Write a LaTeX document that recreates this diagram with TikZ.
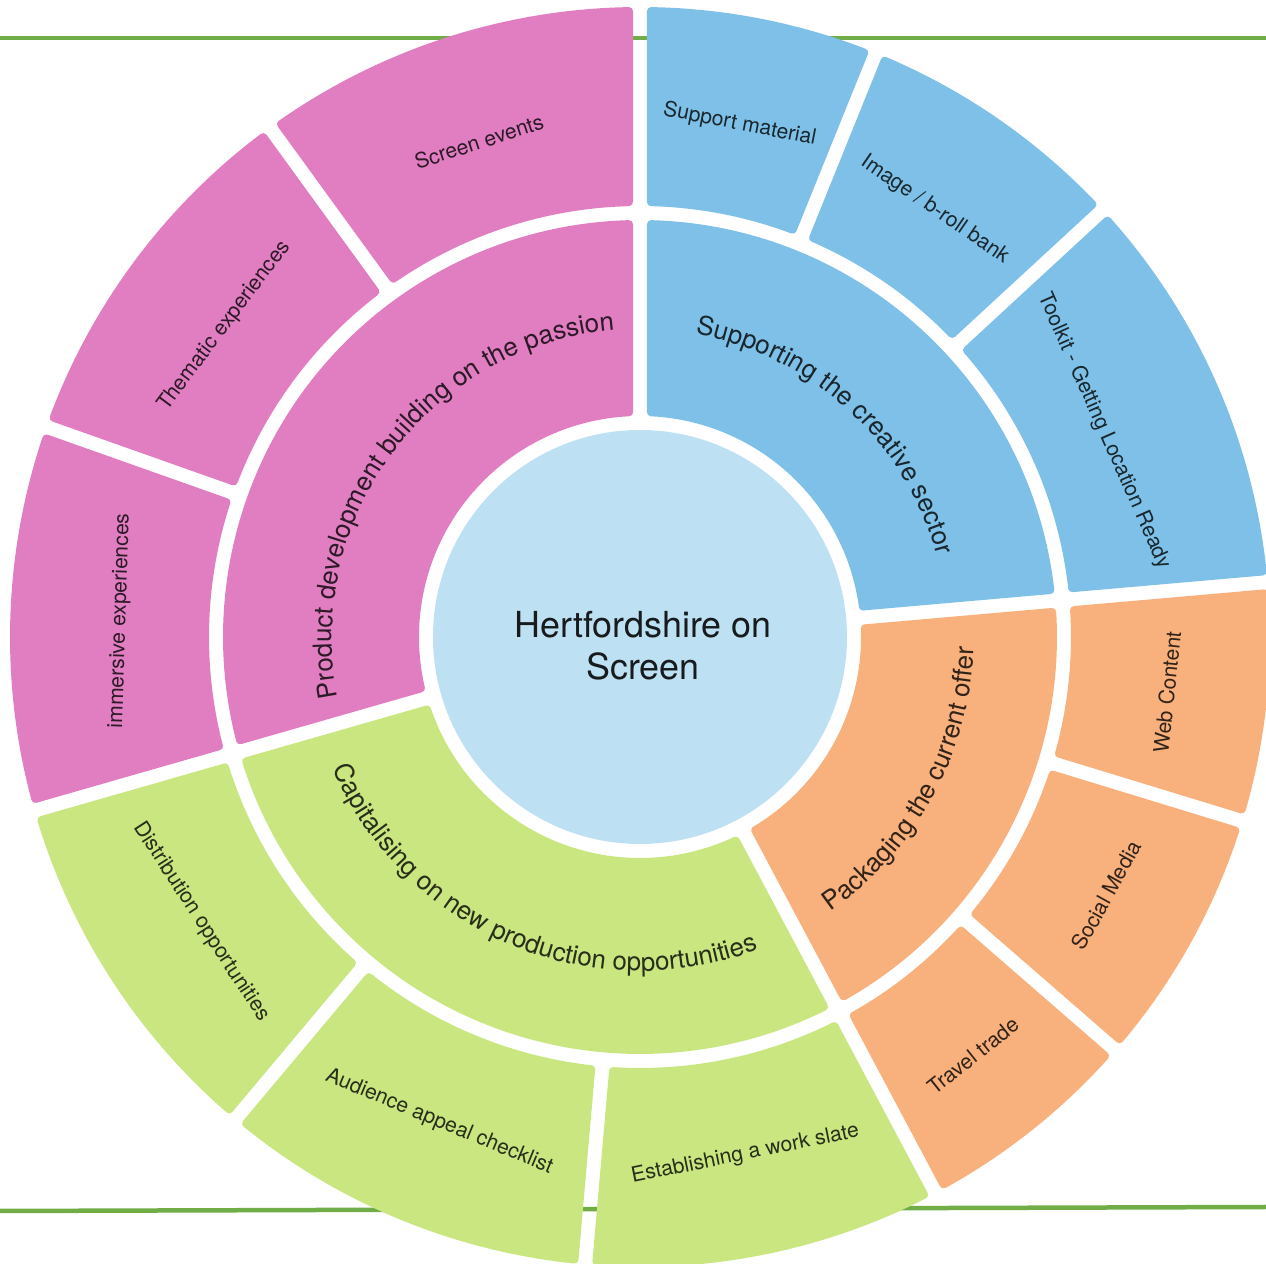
\documentclass[tikz,border=0pt]{standalone}
\usepackage{fontspec}
\setmainfont{TeX Gyre Heros}
\usetikzlibrary{decorations.text}

\definecolor{prodpink}{HTML}{E07EC1}
\definecolor{suppblue}{HTML}{7EC0E7}
\definecolor{packorange}{HTML}{F8B07C}
\definecolor{capigreen}{HTML}{C9E680}
\definecolor{hubblue}{HTML}{BEE0F3}
\definecolor{rulegreen}{HTML}{70AD47}

\newcommand{\ringfont}{\fontsize{7.4}{9}\selectfont}

% one piece of a ring: colour, from angle, to angle, inner r, outer r
\newcommand{\ringseg}[5]{%
  \pgfmathsetmacro\segA{#2+asin(0.11/#4)}%
  \pgfmathsetmacro\segB{#2+asin(0.11/#5)}%
  \pgfmathsetmacro\segC{#3-asin(0.11/#5)}%
  \pgfmathsetmacro\segD{#3-asin(0.11/#4)}%
  \filldraw [seg, fill=#1, draw=#1] (\segA:#4) -- (\segB:#5)
    arc [start angle=\segB, end angle=\segC, radius=#5]
    -- (\segD:#4) arc [start angle=\segD, end angle=\segA, radius=#4] -- cycle;
}

\begin{document}
\begin{tikzpicture}
    \tikzstyle{seg}=[line width=0.08cm, line join=round]
    \tikzstyle{leaf}=[font=\fontsize{6}{7}\selectfont, inner sep=0pt]
    \tikzstyle{edgeline}=[rulegreen, line width=0.045cm]
    \useasboundingbox (-6.40,-6.27) rectangle (6.26,6.37);
    \clip (-6.40,-6.27) rectangle (6.26,6.37);

    % green rules behind the wheel
    \coordinate (topL) at (-6.40,5.99);
    \coordinate (topR) at (6.26,5.99);
    \coordinate (botL) at (-6.40,-5.74);
    \coordinate (botR) at (6.26,-5.70);
    \draw [edgeline] (topL) -- (topR);
    \draw [edgeline] (botL) -- (botR);

    % hub
    \fill [hubblue] (0,0) circle (2.07);
    \node (hub) [font=\fontsize{10.2}{12}\selectfont, align=center, text=hubblue!12!black] at (0.03,-0.09) {Hertfordshire on\\Screen};

    % inner ring
    \ringseg{prodpink}{90}{196}{2.25}{4.13}
    \ringseg{suppblue}{5}{90}{2.25}{4.13}
    \ringseg{packorange}{-62}{5}{2.25}{4.13}
    \ringseg{capigreen}{196}{298}{2.25}{4.13}

    \path [decorate, decoration={text along path, text align=center, text color=prodpink!20!black,
        text={|\ringfont|Product development building on the passion}}] (196:3.08) arc [start angle=196, end angle=90, radius=3.08];
    \path [decorate, decoration={text along path, text align=center, text color=suppblue!20!black,
        text={|\ringfont|Supporting the creative sector}}] (90:3.08) arc [start angle=90, end angle=5, radius=3.08];
    \path [decorate, decoration={text along path, text align=center, text color=packorange!20!black,
        text={|\ringfont|Packaging the current offer}}] (-62:3.34) arc [start angle=-62, end angle=5, radius=3.34];
    \path [decorate, decoration={text along path, text align=center, text color=capigreen!20!black,
        text={|\ringfont|Capitalising on new production opportunities}}] (196:3.34) arc [start angle=196, end angle=298, radius=3.34];

    % outer ring
    \ringseg{prodpink}{90}{126}{4.35}{6.26}
    \ringseg{prodpink}{126}{160.5}{4.35}{6.26}
    \ringseg{prodpink}{160.5}{196}{4.35}{6.26}
    \ringseg{suppblue}{68}{90}{4.35}{6.26}
    \ringseg{suppblue}{42.7}{68}{4.35}{6.26}
    \ringseg{suppblue}{5}{42.7}{4.35}{6.26}
    \ringseg{packorange}{-17}{5}{4.35}{6.26}
    \ringseg{packorange}{-41}{-17}{4.35}{6.26}
    \ringseg{packorange}{-62}{-41}{4.35}{6.26}
    \ringseg{capigreen}{265}{298}{4.35}{6.26}
    \ringseg{capigreen}{230}{265}{4.35}{6.26}
    \ringseg{capigreen}{196}{230}{4.35}{6.26}

    \node (screen) [leaf, text=prodpink!20!black, rotate=18] at (108:5.21) {Screen events};
    \node (thematic) [leaf, text=prodpink!20!black, rotate=53.2] at (143.2:5.19) {Thematic experiences};
    \node (immersive) [leaf, text=prodpink!20!black, rotate=88.2] at (178.2:5.20) {immersive experiences};
    \node (material) [leaf, text=suppblue!20!black, rotate=-11] at (79:5.22) {Support material};
    \node (broll) [leaf, text=suppblue!20!black, rotate=-34.6] at (55.4:5.19) {Image / b-roll bank};
    \node (toolkit) [leaf, text=suppblue!20!black, rotate=-66.1] at (23.9:5.08) {Toolkit - Getting Location Ready};
    \node (web) [leaf, text=packorange!20!black, rotate=84] at (-6:5.30) {Web Content};
    \node (social) [leaf, text=packorange!20!black, rotate=61] at (-29:5.33) {Social Media};
    \node (travel) [leaf, text=packorange!20!black, rotate=38.5] at (-51.5:5.35) {Travel trade};
    \node (slate) [leaf, text=capigreen!20!black, rotate=11.5] at (-78.5:5.28) {Establishing a work slate};
    \node (appeal) [leaf, text=capigreen!20!black, rotate=-22.5] at (247.5:5.25) {Audience appeal checklist};
    \node (distrib) [leaf, text=capigreen!20!black, rotate=-57] at (213:5.23) {Distribution opportunities};
\end{tikzpicture}
\end{document}
